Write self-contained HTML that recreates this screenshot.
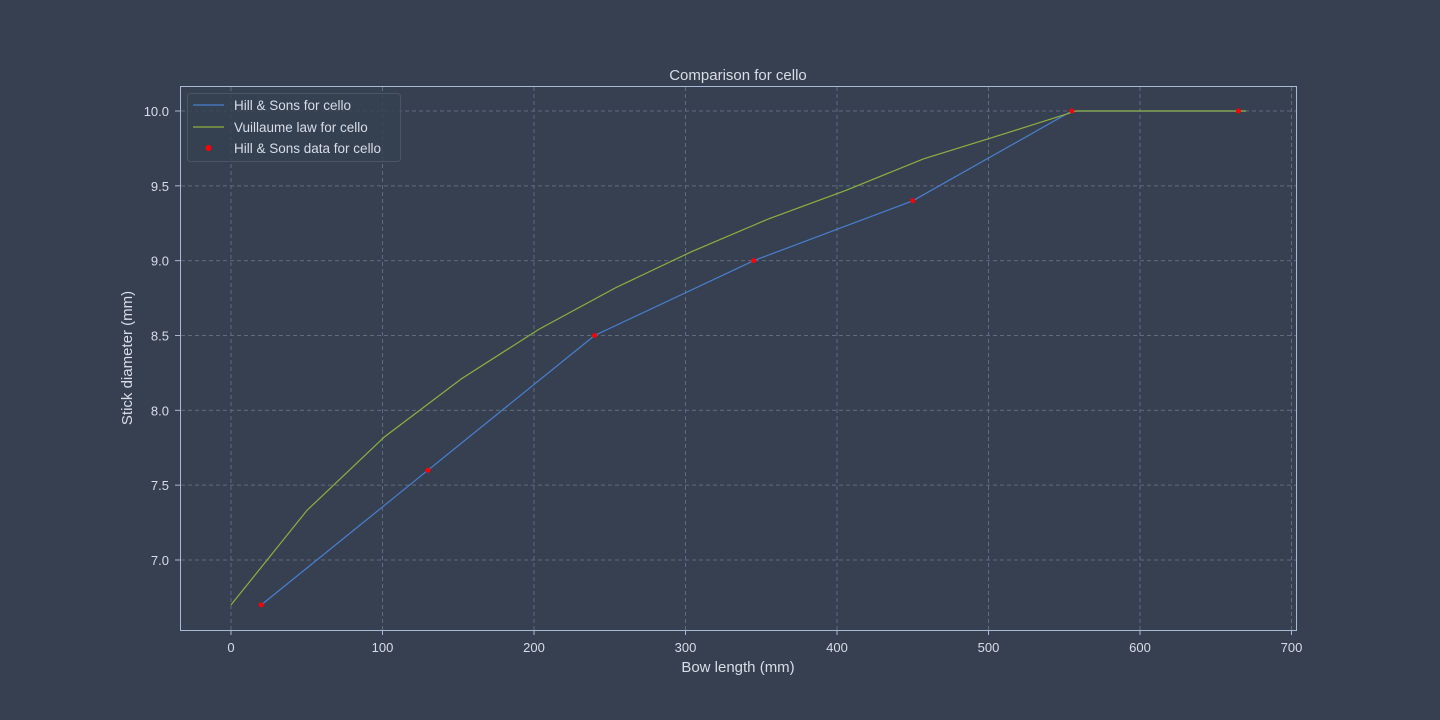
<!DOCTYPE html>
<html><head><meta charset="utf-8"><style>
body{margin:0;background:#364050;}
svg{display:block;font-family:"Liberation Sans","DejaVu Sans",sans-serif;}
</style></head><body>
<svg id="chart" width="1440" height="720" viewBox="0 0 1440 720">
<rect width="1440" height="720" fill="#364050"/>
<g id="grid"></g>
<rect x="180.5" y="86.5" width="1116" height="544" fill="none" stroke="#a9b9d6" stroke-width="1"/>
<g id="ticks"></g>
<g id="series"></g>
<text x="738" y="80" fill="#d8dde8" font-size="15" text-anchor="middle">Comparison for cello</text>
<text x="738" y="672" fill="#d8dde8" font-size="15" text-anchor="middle">Bow length (mm)</text>
<text x="132" y="358" fill="#d8dde8" font-size="15" text-anchor="middle" transform="rotate(-90 132 358)">Stick diameter (mm)</text>
<g>
<rect x="187.5" y="93.5" width="213" height="68" rx="3" fill="#364050" fill-opacity="0.8" stroke="#4a5566"/>
<line x1="193" y1="105" x2="224" y2="105" stroke="#4a7fd0" stroke-width="1.2"/>
<text x="234" y="110" fill="#d8dde8" font-size="13.5">Hill &amp; Sons for cello</text>
<line x1="193" y1="127" x2="224" y2="127" stroke="#8fb040" stroke-width="1.2"/>
<text x="234" y="132" fill="#d8dde8" font-size="13.5">Vuillaume law for cello</text>
<circle cx="208.5" cy="148" r="3" fill="#ff0000"/>
<text x="234" y="153" fill="#d8dde8" font-size="13.5">Hill &amp; Sons data for cello</text>
</g>
</svg>
<script>
const xTicks=[0,100,200,300,400,500,600,700];
const yTicks=[7.0,7.5,8.0,8.5,9.0,9.5,10.0];
const hillX=[20,130,240,345,450,555,665,670];
const hillY=[6.7,7.6,8.5,9.0,9.4,10.0,10.0,10.0];
const dataX=[20,130,240,345,450,555,665];
const dataY=[6.7,7.6,8.5,9.0,9.4,10.0,10.0];
const vuilX=[0,50,101,152,203,254,304,355,406,457,508,558,670];
const vuilY=[6.7,7.33,7.82,8.21,8.54,8.82,9.06,9.28,9.47,9.68,9.84,10.0,10.0];
const NS="http://www.w3.org/2000/svg";
const sx=v=>231+v*1.515;
const sy=v=>560-(v-7)*149.67;
function mk(tag,attrs,parent){const e=document.createElementNS(NS,tag);for(const k in attrs)e.setAttribute(k,attrs[k]);parent.appendChild(e);return e;}
const grid=document.getElementById('grid'),ticks=document.getElementById('ticks'),series=document.getElementById('series');
xTicks.forEach(t=>{const x=sx(t);
 if(x<1296){const g=mk('line',{x1:x,x2:x,y1:87,y2:630,stroke:'#5f6c7e','stroke-dasharray':'4,3'},grid);
 
 }
 const tk=mk('line',{x1:x,x2:x,y1:630,y2:635,stroke:'#a9b9d6'},ticks);
 
 
 const l=mk('text',{x:x,y:652,fill:'#d8dde8','font-size':13,'text-anchor':'middle'},ticks);l.textContent=t;
 
 
});
yTicks.forEach(t=>{const y=sy(t);
 const g=mk('line',{x1:181,x2:1296,y1:y,y2:y,stroke:'#5f6c7e','stroke-dasharray':'4,3'},grid);
 
 
 const tk=mk('line',{x1:175,x2:180,y1:y,y2:y,stroke:'#a9b9d6'},ticks);
 
 
 const l=mk('text',{x:169,y:y+5,fill:'#d8dde8','font-size':13,'text-anchor':'end'},ticks);l.textContent=t.toFixed(1);
 
 
});
const hp=mk('polyline',{points:hillX.map((v,i)=>sx(v)+','+sy(hillY[i])).join(' '),fill:'none',stroke:'#4a7fd0','stroke-width':1.2},series);


const vp=mk('polyline',{points:vuilX.map((v,i)=>sx(v)+','+sy(vuilY[i])).join(' '),fill:'none',stroke:'#8fb040','stroke-width':1.2},series);


dataX.forEach((v,i)=>{const c=mk('circle',{cx:sx(v),cy:sy(dataY[i]),r:2.5,fill:'#ff0000'},series);
 
 
});
</script>
</body></html>
